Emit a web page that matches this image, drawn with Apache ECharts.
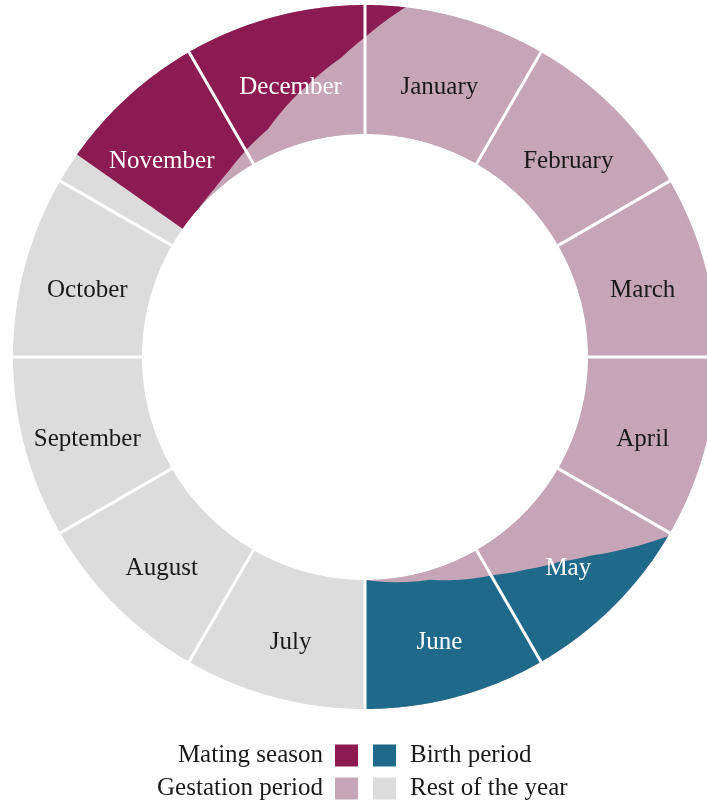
<!DOCTYPE html>
<html><head><meta charset="utf-8">
<script src="https://cdn.jsdelivr.net/npm/echarts@6/dist/echarts.min.js"></script>
<style>html,body{margin:0;padding:0;background:#fff}#chart{width:707px;height:804px}</style>
</head><body><div id="chart"></div>
<script>
// ---- data ----
const months = ['January','February','March','April','May','June','July','August','September','October','November','December'];
// season boundaries, in months from 1 January (0 = start of January), depth 0 = inner edge, 1 = outer edge of ring
const matingStart = 10.17;
const matingEdgeMonth = [12.22, 12.0, 11.85, 11.61, 11.23, 11.0, 10.8, 10.6, 10.4];
const matingEdgeDepth = [1.0, 0.75, 0.6, 0.43, 0.19, 0.12, 0.06, 0.02, 0.0];
const gestationStart = 10.4;
const gestationEnd = 18.0;
const birthEdgeMonth = [4.02, 4.22, 4.38, 4.55, 4.76, 4.99, 5.46, 6.0];
const birthEdgeDepth = [1.0, 0.77, 0.6, 0.46, 0.34, 0.23, 0.07, 0.0];
const birthEnd = 6.0;
const legendLeft = ['Mating season', 'Gestation period'];
const legendRight = ['Birth period', 'Rest of the year'];

// ---- styles ----
const whiteLabelMonths = ['May', 'June', 'November', 'December'];
const COL = { mating: '#8c1b51', gestation: '#c6a6b6', birth: '#1f6a8b', rest: '#dcdcdc' };
const FONT = '"Liberation Serif", "Times New Roman", serif';

function P(api, depth, month) {
  const m = ((month % 12) + 12) % 12;
  return api.coord([depth, m]);
}
function arc(api, depth, a, b) {
  const pts = [];
  const n = Math.max(2, Math.ceil(Math.abs(b - a) / 0.02));
  for (let k = 0; k <= n; k++) pts.push(P(api, depth, a + (b - a) * k / n));
  return pts;
}
function edge(api, ms, ds) {
  const pts = [];
  for (let i = 0; i < ms.length - 1; i++) {
    for (let k = 0; k < 6; k++) {
      const t = k / 6;
      pts.push(P(api, ds[i] + (ds[i + 1] - ds[i]) * t, ms[i] + (ms[i + 1] - ms[i]) * t));
    }
  }
  pts.push(P(api, ds[ds.length - 1], ms[ms.length - 1]));
  return pts;
}

const legendText = { fontFamily: FONT, fontSize: 25, color: '#1a1a1a', lineHeight: 22 };
const chart = echarts.init(document.getElementById('chart'));
const option = {
  animation: false,
  polar: { center: [365, 357], radius: [223, 352] },
  angleAxis: { type: 'value', min: 0, max: 12, startAngle: 90, clockwise: true, show: false },
  radiusAxis: { type: 'value', min: 0, max: 1, show: false },
  legend: [
    { data: legendLeft, orient: 'vertical', align: 'right', right: 349, top: 743, height: 120, padding: 0,
      itemWidth: 23, itemHeight: 22, itemGap: 8, icon: 'rect', selectedMode: false,
      textStyle: Object.assign({ padding: [0, 7, 0, 0] }, legendText) },
    { data: legendRight, orient: 'vertical', align: 'left', left: 373, top: 743, height: 120, padding: 0,
      itemWidth: 23, itemHeight: 22, itemGap: 8, icon: 'rect', selectedMode: false,
      textStyle: Object.assign({ padding: [0, 0, 0, 9] }, legendText) }
  ],
  series: [
    { type: 'custom', name: 'Rest of the year', coordinateSystem: 'polar', silent: true, z: 1,
      itemStyle: { color: COL.rest },
      data: months.map((m, i) => [0.5, i + 0.5]),
      renderItem: (params, api) => {
        const i = params.dataIndex;
        return { type: 'polygon', shape: { points: arc(api, 1, i, i + 1).concat(arc(api, 0, i + 1, i)) },
          style: { fill: COL.rest } };
      } },
    { type: 'custom', name: 'Gestation period', coordinateSystem: 'polar', silent: true, z: 2,
      itemStyle: { color: COL.gestation },
      data: [[0.5, gestationStart]],
      renderItem: (params, api) => ({ type: 'polygon',
        shape: { points: arc(api, 1, gestationStart, gestationEnd).concat(arc(api, 0, gestationEnd, gestationStart)) },
        style: { fill: COL.gestation } }) },
    { type: 'custom', name: 'Mating season', coordinateSystem: 'polar', silent: true, z: 3,
      itemStyle: { color: COL.mating },
      data: [[0.5, matingStart]],
      renderItem: (params, api) => {
        const last = matingEdgeMonth[matingEdgeMonth.length - 1];
        const pts = [P(api, 0, matingStart)]
          .concat(arc(api, 1, matingStart, matingEdgeMonth[0]))
          .concat(edge(api, matingEdgeMonth, matingEdgeDepth))
          .concat(arc(api, 0, last, matingStart));
        return { type: 'polygon', shape: { points: pts }, style: { fill: COL.mating } };
      } },
    { type: 'custom', name: 'Birth period', coordinateSystem: 'polar', silent: true, z: 4,
      itemStyle: { color: COL.birth },
      data: [[0.5, birthEnd]],
      renderItem: (params, api) => {
        const pts = edge(api, birthEdgeMonth, birthEdgeDepth)
          .concat(arc(api, 1, birthEnd, birthEdgeMonth[0]));
        return { type: 'polygon', shape: { points: pts }, style: { fill: COL.birth } };
      } },
    { type: 'custom', name: 'dividers', coordinateSystem: 'polar', silent: true, z: 5,
      data: months.map((m, i) => [0.5, i]),
      renderItem: (params, api) => {
        const i = params.dataIndex;
        const a = P(api, -0.01, i), b = P(api, 1.01, i);
        return { type: 'line', shape: { x1: a[0], y1: a[1], x2: b[0], y2: b[1] },
          style: { stroke: '#ffffff', lineWidth: 3 } };
      } },
    { type: 'custom', name: 'labels', coordinateSystem: 'polar', silent: true, z: 6,
      data: months.map((m, i) => [0.5, i + 0.5]),
      renderItem: (params, api) => {
        const i = params.dataIndex;
        const c = P(api, 0.5, i + 0.5);
        return { type: 'text', x: c[0], y: c[1] + 8,
          style: { text: months[i], fill: whiteLabelMonths.includes(months[i]) ? '#ffffff' : '#1a1a1a',
            fontFamily: FONT, fontSize: 25, align: 'center', verticalAlign: 'middle' } };
      } }
  ]
};
chart.setOption(option);
</script>
</body></html>
